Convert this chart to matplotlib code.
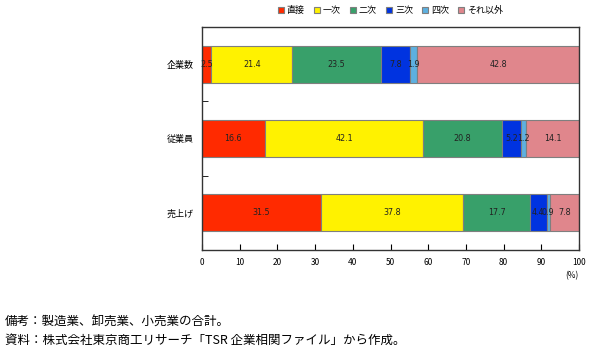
import numpy as np
import matplotlib.pyplot as plt

plt.rcParams['font.family'] = ['Noto Sans CJK JP', 'DejaVu Sans']

categories = ['企業数', '従業員', '売上げ']
series_names = ['直接', '一次', '二次', '三次', '四次', 'それ以外']
colors = ['#FF2A00', '#FFF200', '#38A06A', '#0033E0', '#5DB0E0', '#E0868C']

chokusetsu = [2.5, 16.6, 31.5]
ichiji = [21.4, 42.1, 37.8]
niji = [23.5, 20.8, 17.7]
sanji = [7.8, 5.2, 4.4]
yoji = [1.9, 1.2, 0.9]
sonota = [42.8, 14.1, 7.8]

values = [chokusetsu, ichiji, niji, sanji, yoji, sonota]
xticks = np.arange(0, 101, 10)

fig = plt.figure(figsize=(5.99, 3.55), dpi=100)
ax = fig.add_axes([202 / 599, 1 - 250 / 355, 377 / 599, 223 / 355])

y = np.arange(len(categories))
left = np.zeros(len(categories))
for name, vals, c in zip(series_names, values, colors):
    vals = np.array(vals)
    ax.barh(y, vals, left=left, height=0.5, color=c, label=name,
            edgecolor='#7F7F7F', linewidth=0.8)
    for yi, l, v in zip(y, left, vals):
        ax.text(l + v / 2, yi, f'{v:.1f}', ha='center', va='center',
                fontsize=5.8, color='#222222', family=['DejaVu Sans'])
    left += vals

ax.set_xlim(0, 100)
ax.set_ylim(len(categories) - 0.5, -0.5)
ax.set_xticks(xticks)
ax.set_xticklabels([str(t) for t in xticks], fontsize=6)
ax.set_yticks(y)
ax.set_yticklabels(categories, fontsize=6.5)
ax.set_yticks(np.arange(0.5, len(categories) - 1, 1), minor=True)
ax.tick_params(axis='y', which='major', length=0, pad=6)
ax.tick_params(axis='y', which='minor', direction='in', length=4)
ax.tick_params(axis='x', direction='in', length=4, pad=6)
for s in ax.spines.values():
    s.set_color('#333333')
    s.set_linewidth(1.0)

ax.text(1.0, -0.115, '(%)', transform=ax.transAxes, ha='right', va='center',
        fontsize=6)

ax.legend(loc='upper center', bbox_to_anchor=(0.5, 1.11), ncol=6,
          frameon=False, fontsize=6.5, handlelength=0.7, handleheight=0.7,
          handletextpad=0.3, columnspacing=1.0, borderaxespad=0)

fig.text(5 / 599, 1 - 322 / 355, '備考：製造業、卸売業、小売業の合計。', fontsize=9,
         va='center', ha='left')
fig.text(5 / 599, 1 - 340 / 355, '資料：株式会社東京商工リサーチ「TSR 企業相関ファイル」から作成。',
         fontsize=9, va='center', ha='left')

fig.savefig('out.png', dpi=100)
